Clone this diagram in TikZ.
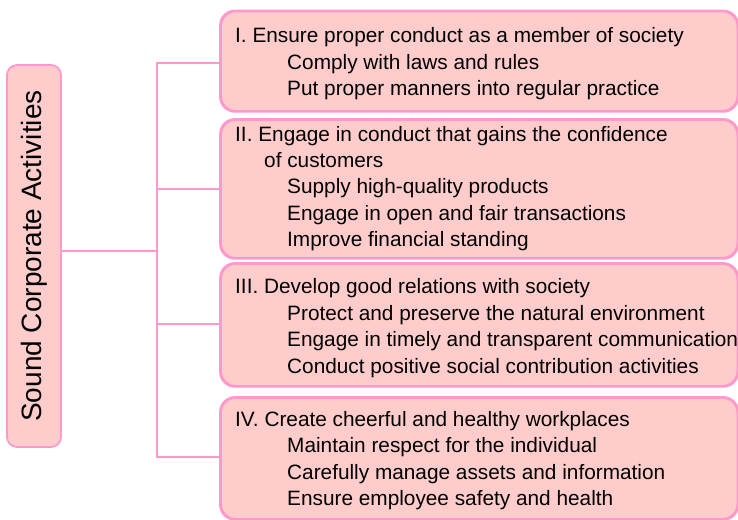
\documentclass[tikz,border=0pt]{standalone}
\usepackage{fontspec}
\setmainfont{Liberation Sans}
\definecolor{boxline}{HTML}{FF99CC}
\definecolor{boxfill}{HTML}{FFCCCC}
\begin{document}
\begin{tikzpicture}[x=1pt,y=-1pt,
  box/.style={draw=boxline, fill=boxfill, line width=1.8pt, rounded corners=15pt, inner sep=0pt},
  conn/.style={draw=boxline, line width=2.5pt},
  txt/.style={anchor=base west, inner sep=0pt, font=\fontsize{20.8}{26}\selectfont}]
\useasboundingbox (0,0) rectangle (738,519);

% left box
\node[box, rounded corners=10pt, rotate=90, minimum width=382pt, minimum height=54pt,
      font=\fontsize{28}{32}\selectfont] (lb) at (34,256) {Sound Corporate Activities};

% right boxes
\node[box, anchor=north west, minimum width=516.5pt, minimum height=99.5pt] (b1) at (220,10.5) {};
\node[box, anchor=north west, minimum width=516.5pt, minimum height=138pt] (b2) at (220,119) {};
\node[box, anchor=north west, minimum width=516.5pt, minimum height=122pt] (b3) at (220,263) {};
\node[box, anchor=north west, minimum width=516.5pt, minimum height=121pt] (b4) at (220,397) {};

% connectors
\coordinate (j) at (157,251);
\coordinate (t1) at (157,63);
\coordinate (t2) at (157,189);
\coordinate (t3) at (157,324);
\coordinate (t4) at (157,457);
\draw[conn] (lb.south |- j) -- (j);
\draw[conn] (t1 -| b1.west) -- (t1) -- (t4) -- (t4 -| b4.west);
\draw[conn] (t2) -- (t2 -| b2.west);
\draw[conn] (t3) -- (t3 -| b3.west);

% redraw box borders over connector ends
\draw[draw=boxline, line width=1.8pt, rounded corners=15pt] (b1.north west) rectangle (b1.south east);
\draw[draw=boxline, line width=1.8pt, rounded corners=15pt] (b2.north west) rectangle (b2.south east);
\draw[draw=boxline, line width=1.8pt, rounded corners=15pt] (b3.north west) rectangle (b3.south east);
\draw[draw=boxline, line width=1.8pt, rounded corners=15pt] (b4.north west) rectangle (b4.south east);

% texts box I
\node[txt] (h1) at (235,43) {I. Ensure proper conduct as a member of society};
\node[txt] (i11) at (287,69) {Comply with laws and rules};
\node[txt] (i12) at (287,95) {Put proper manners into regular practice};
% box II
\node[txt] (h2) at (235,141) {II. Engage in conduct that gains the confidence};
\node[txt] (h2b) at (264,167) {of customers};
\node[txt] (i21) at (287,193.5) {Supply high-quality products};
\node[txt] (i22) at (287,220) {Engage in open and fair transactions};
\node[txt] (i23) at (287,246.5) {Improve financial standing};
% box III
\node[txt] (h3) at (235,293) {III. Develop good relations with society};
\node[txt] (i31) at (287,320) {Protect and preserve the natural environment};
\node[txt] (i32) at (287,346.5) {Engage in timely and transparent communication};
\node[txt] (i33) at (287,373) {Conduct positive social contribution activities};
% box IV
\node[txt] (h4) at (235,426) {IV. Create cheerful and healthy workplaces};
\node[txt] (i41) at (287,452.5) {Maintain respect for the individual};
\node[txt] (i42) at (287,479) {Carefully manage assets and information};
\node[txt] (i43) at (287,505.5) {Ensure employee safety and health};
\end{tikzpicture}
\end{document}
